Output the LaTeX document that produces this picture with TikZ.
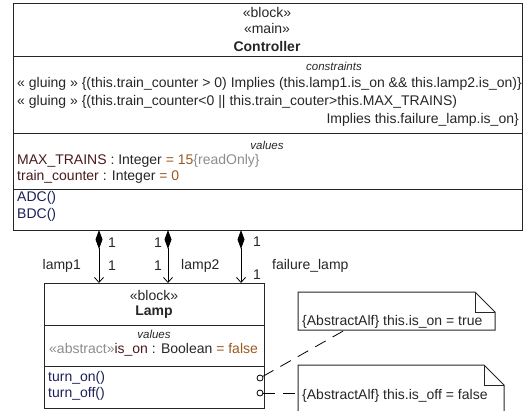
\documentclass[tikz,border=0pt]{standalone}
\usepackage{fontspec}
\setmainfont{Liberation Sans}
\usetikzlibrary{arrows.meta}
\definecolor{maroon}{HTML}{4A1A1A}
\definecolor{valc}{HTML}{9A5A1E}
\definecolor{grayc}{HTML}{8C8C8C}
\definecolor{opc}{HTML}{1E1E5A}
\definecolor{linec}{HTML}{262626}
\begin{document}
\begin{tikzpicture}[x=1pt,y=-1pt,
  box/.style={draw=linec, line width=1pt, inner sep=0pt, outer sep=0pt, anchor=north west},
  txt/.style={inner sep=0pt, font=\fontsize{14}{16}\selectfont, text=black!85},
  small/.style={inner sep=0pt, font=\fontsize{11.5}{13}\selectfont\itshape, text=black!85},
  sep/.style={draw=linec, line width=1pt},
  assoc/.style={draw=black, line width=0.8pt, {Diamond[length=19pt,width=7pt]}-{Straight Barb[length=5pt,width=9pt]}},
  anchorline/.style={draw=black, line width=0.8pt, dash pattern=on 12pt off 8pt},
  port/.style={circle, draw=black, line width=0.8pt, inner sep=0pt, minimum size=6pt, fill=white},
  notebox/.style={inner sep=0pt, outer sep=0pt, anchor=north west}
]
\useasboundingbox (0,0) rectangle (525,410);
% Controller
\node[box, minimum width=509pt, minimum height=227pt] (ctrl) at (13,3) {};
\draw[sep] (13,56) -- (522,56);
\draw[sep] (13,133) -- (522,133);
\draw[sep] (13,189) -- (522,189);
\node[txt] (cst1) at (267,12) {«block»};
\node[txt] (cst2) at (267,28) {«main»};
\node[txt, font=\fontsize{14}{16}\selectfont\bfseries] (cname) at (267,46) {Controller};
\node[small] (ccons) at (334,66) {constraints};
\node[txt, anchor=west] (g1) at (17,84) {« gluing » \{(this.train\_counter > 0) Implies (this.lamp1.is\_on \&\& this.lamp2.is\_on)\}};
\node[txt, anchor=west] (g2) at (17,102) {« gluing » \{(this.train\_counter<0 || this.train\_couter>this.MAX\_TRAINS)};
\node[txt, anchor=east] (g3) at (519,120) {Implies this.failure\_lamp.is\_on\}};
\node[small] (cvals) at (267,145) {values};
\node[txt, anchor=west] (v1) at (17,161) {\textcolor{maroon}{MAX\_TRAINS} : Integer \textcolor{valc}{= 15}\textcolor{grayc}{\{readOnly\}}};
\node[txt, anchor=west] (v2) at (17,177) {\textcolor{maroon}{train\_counter} : Integer \textcolor{valc}{= 0}};
\node[txt, anchor=west, text=opc] (o1) at (17,198) {ADC()};
\node[txt, anchor=west, text=opc] (o2) at (17,215) {BDC()};
% Lamp
\node[box, minimum width=220pt, minimum height=125pt] (lamp) at (44,283) {};
\draw[sep] (44,325) -- (264,325);
\draw[sep] (44,366) -- (264,366);
\node[txt] (lst) at (154,295) {«block»};
\node[txt, font=\fontsize{14}{16}\selectfont\bfseries] (lname) at (154,312) {Lamp};
\node[small] (lvals) at (154,334) {values};
\node[txt, anchor=west] (lv1) at (49,350) {\textcolor{grayc}{«abstract»}\textcolor{maroon}{is\_on} : Boolean \textcolor{valc}{= false}};
\node[txt, anchor=west, text=opc] (lo1) at (48,378) {turn\_on()};
\node[txt, anchor=west, text=opc] (lo2) at (48,394) {turn\_off()};
% associations
\coordinate (x1) at (99,0);
\coordinate (x2) at (168,0);
\coordinate (x3) at (241,0);
\draw[assoc] (ctrl.south -| x1) -- (lamp.north -| x1);
\draw[assoc] (ctrl.south -| x2) -- (lamp.north -| x2);
\draw[assoc] (ctrl.south -| x3) -- (lamp.north -| x3);
\node[txt, anchor=west] (m1a) at (108,243) {1};
\node[txt, anchor=west] (m1b) at (108,266) {1};
\node[txt, anchor=east] (l1) at (81,266) {lamp1};
\node[txt, anchor=east] (m2a) at (162,243) {1};
\node[txt, anchor=east] (m2b) at (162,266) {1};
\node[txt, anchor=west] (l2) at (181,266) {lamp2};
\node[txt, anchor=west] (m3a) at (253,242) {1};
\node[txt, anchor=west] (m3b) at (253,275) {1};
\node[txt, anchor=west] (l3) at (272,266) {failure\_lamp};
% notes
\node[notebox, minimum width=197pt, minimum height=38pt] (n1) at (298,292) {};
\draw[linec, line width=1pt] (n1.south west) -- (n1.north west) -- ([xshift=-20pt]n1.north east) -- ([yshift=-20pt]n1.north east) -- (n1.south east) -- cycle;
\draw[linec, line width=1pt] ([xshift=-20pt]n1.north east) -- ([xshift=-20pt,yshift=-20pt]n1.north east) -- ([yshift=-20pt]n1.north east);
\node[txt, anchor=west] (n1t) at (302,322) {\{AbstractAlf\} this.is\_on = true};
\node[notebox, minimum width=206pt, minimum height=60pt] (n2) at (298,365) {};
\draw[linec, line width=1pt] (n2.south west) -- (n2.north west) -- ([xshift=-20pt]n2.north east) -- ([yshift=-20pt]n2.north east) -- (n2.south east);
\draw[linec, line width=1pt] ([xshift=-20pt]n2.north east) -- ([xshift=-20pt,yshift=-20pt]n2.north east) -- ([yshift=-20pt]n2.north east);
\node[txt, anchor=west] (n2t) at (302,396) {\{AbstractAlf\} this.is\_off = false};
% ports and anchor lines
\node[port] (p1) at (260,378) {};
\node[port] (p2) at (260,393) {};
\coordinate (n1a) at (345,330);
\draw[anchorline] (p1) -- (n1.south -| n1a);
\draw[anchorline] (p2) -- (p2 -| n2.west);
\end{tikzpicture}
\end{document}
